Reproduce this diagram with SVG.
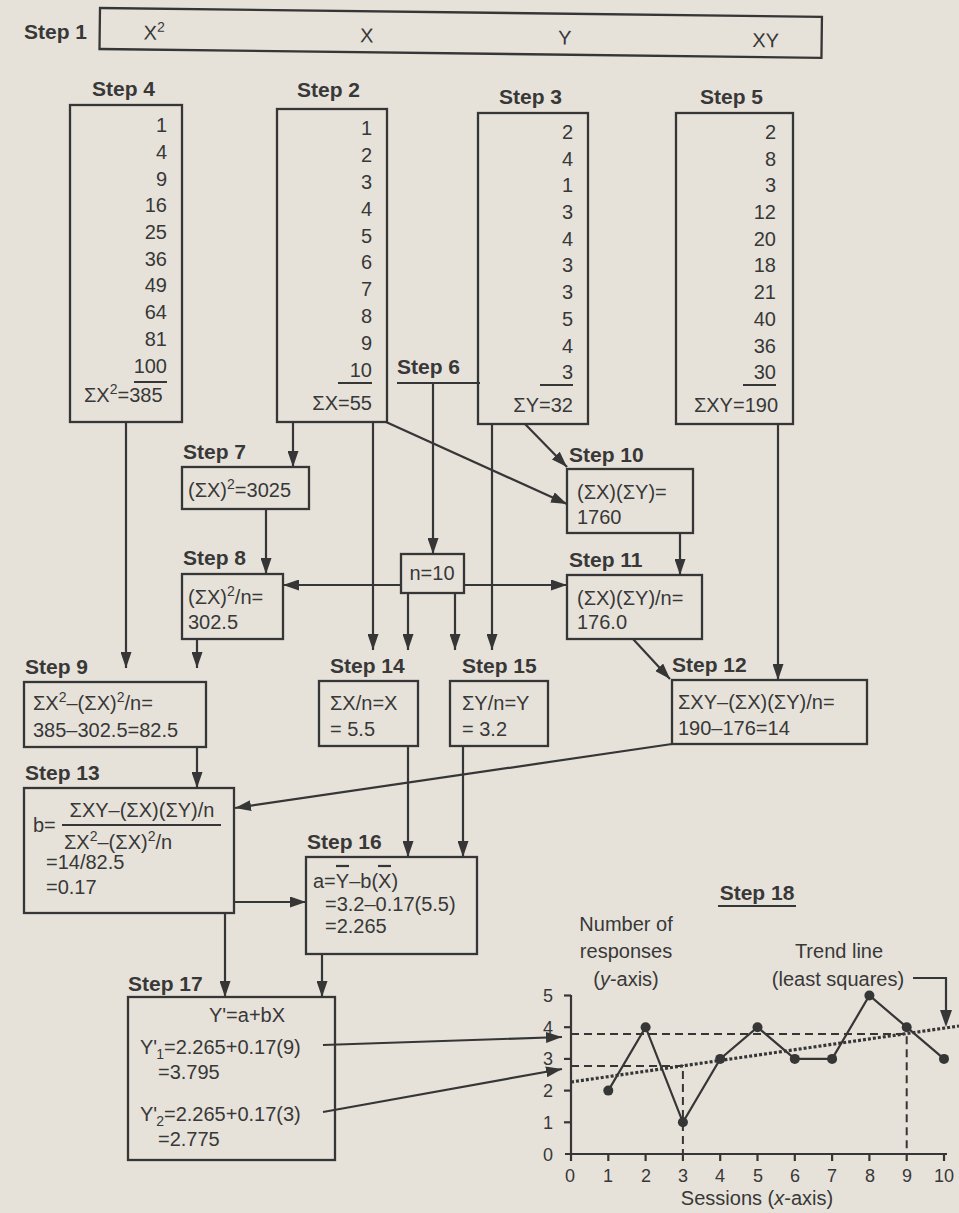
<svg xmlns="http://www.w3.org/2000/svg" width="959" height="1213" viewBox="0 0 959 1213">
<defs>
<marker id="ah" viewBox="0 0 16 11" refX="16" refY="5.5" markerWidth="16" markerHeight="11" orient="auto" markerUnits="userSpaceOnUse"><path d="M0,0 L16,5.5 L0,11 z" fill="#363636"/></marker>
<style>
text{font-family:"Liberation Sans",Arial,sans-serif;fill:#383838;font-size:20px}
.lb{font-weight:bold;font-size:21px}
.bx{fill:none;stroke:#363636;stroke-width:2.3}
.c line,.c path,.c polyline{fill:none;stroke:#363636;stroke-width:2.2}
.ar{marker-end:url(#ah)}
.r{text-anchor:end}
.m{text-anchor:middle}
.ul{stroke:#363636;stroke-width:2.2}
.ax{stroke:#363636;stroke-width:2.2;fill:none}
.tk{font-size:18px}
.sp{font-size:14px}
</style>
</defs>
<rect x="0" y="0" width="959" height="1213" fill="#e6e2da"/>

<g id="step1">
<text class="lb" x="24" y="39">Step 1</text>
<g transform="rotate(0.7 100 8)">
<rect class="bx" x="100" y="8" width="722" height="41"/>
<text x="144" y="39">X<tspan class="sp" dy="-8">2</tspan></text>
<text class="m" x="367" y="39">X</text>
<text class="m" x="565" y="39">Y</text>
<text class="m" x="766" y="39">XY</text>
</g>
</g>

<g id="step4">
<text class="lb" x="92" y="96">Step 4</text>
<rect class="bx" x="70" y="105" width="112" height="317"/>
<text class="r" x="167" y="132">1</text>
<text class="r" x="167" y="159">4</text>
<text class="r" x="167" y="186">9</text>
<text class="r" x="167" y="212">16</text>
<text class="r" x="167" y="239">25</text>
<text class="r" x="167" y="266">36</text>
<text class="r" x="167" y="292">49</text>
<text class="r" x="167" y="319">64</text>
<text class="r" x="167" y="346">81</text>
<text class="r" x="167" y="373">100</text>
<line class="ul" x1="134" y1="382" x2="167" y2="382"/>
<text x="84" y="402">ΣX<tspan class="sp" dy="-8">2</tspan><tspan dy="8">=385</tspan></text>
</g>

<g id="step2">
<text class="lb" x="297" y="97">Step 2</text>
<rect class="bx" x="277" y="109" width="110" height="313"/>
<text class="r" x="372" y="135">1</text>
<text class="r" x="372" y="162">2</text>
<text class="r" x="372" y="189">3</text>
<text class="r" x="372" y="216">4</text>
<text class="r" x="372" y="243">5</text>
<text class="r" x="372" y="269">6</text>
<text class="r" x="372" y="296">7</text>
<text class="r" x="372" y="323">8</text>
<text class="r" x="372" y="350">9</text>
<text class="r" x="372" y="377">10</text>
<line class="ul" x1="338" y1="383" x2="372" y2="383"/>
<text class="r" x="372" y="410">ΣX=55</text>
</g>

<g id="step3">
<text class="lb" x="499" y="104">Step 3</text>
<rect class="bx" x="478" y="113" width="110" height="311"/>
<text class="r" x="573" y="139">2</text>
<text class="r" x="573" y="166">4</text>
<text class="r" x="573" y="192">1</text>
<text class="r" x="573" y="219">3</text>
<text class="r" x="573" y="246">4</text>
<text class="r" x="573" y="272">3</text>
<text class="r" x="573" y="299">3</text>
<text class="r" x="573" y="326">5</text>
<text class="r" x="573" y="353">4</text>
<text class="r" x="573" y="379">3</text>
<line class="ul" x1="540" y1="385" x2="573" y2="385"/>
<text class="r" x="573" y="412">ΣY=32</text>
</g>

<g id="step5">
<text class="lb" x="700" y="104">Step 5</text>
<rect class="bx" x="676" y="113" width="117" height="311"/>
<text class="r" x="776" y="139">2</text>
<text class="r" x="776" y="166">8</text>
<text class="r" x="776" y="192">3</text>
<text class="r" x="776" y="219">12</text>
<text class="r" x="776" y="246">20</text>
<text class="r" x="776" y="272">18</text>
<text class="r" x="776" y="299">21</text>
<text class="r" x="776" y="326">40</text>
<text class="r" x="776" y="353">36</text>
<text class="r" x="776" y="379">30</text>
<line class="ul" x1="743" y1="385" x2="776" y2="385"/>
<text class="r" x="778" y="412">ΣXY=190</text>
</g>

<g id="step6">
<text class="lb" x="397" y="374">Step 6</text>
<line class="ul" x1="397" y1="383" x2="480" y2="383"/>
<rect class="bx" x="401" y="554" width="63" height="39"/>
<text class="m" x="432" y="580">n=10</text>
</g>

<g id="step7">
<text class="lb" x="183" y="459">Step 7</text>
<rect class="bx" x="182" y="467" width="127" height="42"/>
<text x="188" y="497">(ΣX)<tspan class="sp" dy="-8">2</tspan><tspan dy="8">=3025</tspan></text>
</g>

<g id="step8">
<text class="lb" x="183" y="565">Step 8</text>
<rect class="bx" x="182" y="574" width="101" height="65"/>
<text x="188" y="604">(ΣX)<tspan class="sp" dy="-8">2</tspan><tspan dy="8">/n=</tspan></text>
<text x="188" y="629">302.5</text>
</g>

<g id="step9">
<text class="lb" x="25" y="674">Step 9</text>
<rect class="bx" x="24" y="682" width="182" height="65"/>
<text x="33" y="710">ΣX<tspan class="sp" dy="-8">2</tspan><tspan dy="8">–(ΣX)</tspan><tspan class="sp" dy="-8">2</tspan><tspan dy="8">/n=</tspan></text>
<text x="33" y="737">385–302.5=82.5</text>
</g>

<g id="step10">
<text class="lb" x="569" y="462">Step 10</text>
<rect class="bx" x="567" y="469" width="126" height="64"/>
<text x="577" y="499">(ΣX)(ΣY)=</text>
<text x="577" y="524">1760</text>
</g>

<g id="step11">
<text class="lb" x="569" y="567">Step 11</text>
<rect class="bx" x="567" y="575" width="135" height="64"/>
<text x="577" y="605">(ΣX)(ΣY)/n=</text>
<text x="577" y="629">176.0</text>
</g>

<g id="step12">
<text class="lb" x="672" y="672">Step 12</text>
<rect class="bx" x="672" y="680" width="195" height="64"/>
<text x="678" y="709">ΣXY–(ΣX)(ΣY)/n=</text>
<text x="678" y="735">190–176=14</text>
</g>

<g id="step13">
<text class="lb" x="25" y="780">Step 13</text>
<rect class="bx" x="24" y="788" width="210" height="125"/>
<text x="33" y="832">b=</text>
<text class="m" x="142" y="817">ΣXY–(ΣX)(ΣY)/n</text>
<line class="ul" x1="62" y1="825" x2="221" y2="825"/>
<text x="64" y="849">ΣX<tspan class="sp" dy="-8">2</tspan><tspan dy="8">–(ΣX)</tspan><tspan class="sp" dy="-8">2</tspan><tspan dy="8">/n</tspan></text>
<text x="46" y="869">=14/82.5</text>
<text x="46" y="894">=0.17</text>
</g>

<g id="step14">
<text class="lb" x="330" y="673">Step 14</text>
<rect class="bx" x="319" y="681" width="99" height="65"/>
<text x="330" y="710">ΣX/n=X</text>
<text x="330" y="736">= 5.5</text>
</g>

<g id="step15">
<text class="lb" x="462" y="673">Step 15</text>
<rect class="bx" x="450" y="681" width="98" height="65"/>
<text x="462" y="710">ΣY/n=Y</text>
<text x="462" y="736">= 3.2</text>
</g>

<g id="step16">
<text class="lb" x="307" y="849">Step 16</text>
<rect class="bx" x="306" y="857" width="171" height="97"/>
<text x="313" y="888">a=Y–b(X)</text>
<line class="ul" x1="336" y1="866" x2="349" y2="866" stroke-width="1.6"/>
<line class="ul" x1="378" y1="866" x2="391" y2="866" stroke-width="1.6"/>
<text x="325" y="911">=3.2–0.17(5.5)</text>
<text x="325" y="933">=2.265</text>
</g>

<g id="step17">
<text class="lb" x="128" y="991">Step 17</text>
<rect class="bx" x="128" y="997" width="207" height="163"/>
<text class="m" x="247" y="1022">Y'=a+bX</text>
<text x="140" y="1054">Y'<tspan class="sp" dx="-1" dy="5">1</tspan><tspan dy="-5">=2.265+0.17(9)</tspan></text>
<text x="158" y="1079">=3.795</text>
<text x="140" y="1121">Y'<tspan class="sp" dx="-1" dy="5">2</tspan><tspan dy="-5">=2.265+0.17(3)</tspan></text>
<text x="158" y="1146">=2.775</text>
</g>

<g id="connectors" class="c">
<line class="ar" x1="293" y1="422" x2="293" y2="467"/>
<line class="ar" x1="266" y1="509" x2="266" y2="574"/>
<line class="ar" x1="433" y1="383" x2="433" y2="554"/>
<line class="ar" x1="401" y1="585" x2="283" y2="585"/>
<line class="ar" x1="464" y1="585" x2="567" y2="585"/>
<line class="ar" x1="525" y1="424" x2="567" y2="467"/>
<line class="ar" x1="386" y1="422" x2="567" y2="504"/>
<line class="ar" x1="680" y1="533" x2="680" y2="575"/>
<line class="ar" x1="778" y1="424" x2="778" y2="680"/>
<line class="ar" x1="633" y1="639" x2="670" y2="679"/>
<line class="ar" x1="373" y1="422" x2="373" y2="650"/>
<line class="ar" x1="408" y1="593" x2="408" y2="650"/>
<line class="ar" x1="455" y1="593" x2="455" y2="650"/>
<line class="ar" x1="492" y1="424" x2="492" y2="650"/>
<line class="ar" x1="126" y1="422" x2="126" y2="668"/>
<line class="ar" x1="197" y1="639" x2="197" y2="668"/>
<line class="ar" x1="197" y1="747" x2="197" y2="788"/>
<line class="ar" x1="672" y1="744" x2="235" y2="808"/>
<line class="ar" x1="408" y1="746" x2="408" y2="857"/>
<line class="ar" x1="463" y1="746" x2="463" y2="857"/>
<line class="ar" x1="234" y1="902" x2="306" y2="902"/>
<line class="ar" x1="225" y1="913" x2="225" y2="997"/>
<line class="ar" x1="322" y1="954" x2="322" y2="997"/>
<line class="ar" x1="323" y1="1045" x2="562" y2="1037"/>
<line class="ar" x1="323" y1="1112" x2="562" y2="1069"/>
</g>

<g id="step18">
<text class="lb m" x="757" y="900">Step 18</text>
<line class="ul" x1="718" y1="906" x2="796" y2="906"/>
<text class="m" x="626" y="931">Number of</text>
<text class="m" x="626" y="958">responses</text>
<text class="m" x="626" y="986">(<tspan font-style="italic">y</tspan>-axis)</text>
<text class="m" x="839" y="958">Trend line</text>
<text class="m" x="838" y="986">(least squares)</text>
<polyline class="ax" points="913,978 946,978 946,1012"/>
<path d="M940,1010 L946,1027 L952,1010 z" fill="#363636"/>
<line class="ax" x1="571" y1="995" x2="571" y2="1161"/>
<line class="ax" x1="565" y1="1154" x2="947" y2="1154"/>
<g class="ax">
<line x1="564" y1="995.5" x2="571" y2="995.5"/>
<line x1="564" y1="1027.2" x2="571" y2="1027.2"/>
<line x1="564" y1="1058.9" x2="571" y2="1058.9"/>
<line x1="564" y1="1090.6" x2="571" y2="1090.6"/>
<line x1="564" y1="1122.3" x2="571" y2="1122.3"/>
<line x1="608.3" y1="1154" x2="608.3" y2="1161"/>
<line x1="645.6" y1="1154" x2="645.6" y2="1161"/>
<line x1="682.9" y1="1154" x2="682.9" y2="1161"/>
<line x1="720.2" y1="1154" x2="720.2" y2="1161"/>
<line x1="757.5" y1="1154" x2="757.5" y2="1161"/>
<line x1="794.8" y1="1154" x2="794.8" y2="1161"/>
<line x1="832.1" y1="1154" x2="832.1" y2="1161"/>
<line x1="869.4" y1="1154" x2="869.4" y2="1161"/>
<line x1="906.7" y1="1154" x2="906.7" y2="1161"/>
<line x1="944" y1="1154" x2="944" y2="1161"/>
</g>
<g>
<text class="m tk" x="548" y="1002">5</text>
<text class="m tk" x="548" y="1034">4</text>
<text class="m tk" x="548" y="1065">3</text>
<text class="m tk" x="548" y="1097">2</text>
<text class="m tk" x="548" y="1129">1</text>
<text class="m tk" x="548" y="1161">0</text>
<text class="m tk" x="570" y="1182">0</text>
<text class="m tk" x="608" y="1182">1</text>
<text class="m tk" x="646" y="1182">2</text>
<text class="m tk" x="683" y="1182">3</text>
<text class="m tk" x="720" y="1182">4</text>
<text class="m tk" x="758" y="1182">5</text>
<text class="m tk" x="795" y="1182">6</text>
<text class="m tk" x="832" y="1182">7</text>
<text class="m tk" x="870" y="1182">8</text>
<text class="m tk" x="907" y="1182">9</text>
<text class="m tk" x="944" y="1182">10</text>
</g>
<text class="m" x="757" y="1205">Sessions (<tspan font-style="italic">x</tspan>-axis)</text>
<g fill="none" stroke="#363636" stroke-width="2" stroke-dasharray="8 5">
<polyline points="571,1034 906.7,1034 906.7,1154"/>
<polyline points="571,1066 682.9,1066 682.9,1154"/>
</g>
<line x1="571" y1="1082" x2="959" y2="1026" stroke="#363636" stroke-width="3.2" stroke-dasharray="3 2"/>
<polyline fill="none" stroke="#363636" stroke-width="2.2" points="608.3,1090.6 645.6,1027.2 682.9,1122.3 720.2,1058.9 757.5,1027.2 794.8,1058.9 832.1,1058.9 869.4,995.5 906.7,1027.2 944,1058.9"/>
<g fill="#363636">
<circle cx="608.3" cy="1090.6" r="5"/>
<circle cx="645.6" cy="1027.2" r="5"/>
<circle cx="682.9" cy="1122.3" r="5"/>
<circle cx="720.2" cy="1058.9" r="5"/>
<circle cx="757.5" cy="1027.2" r="5"/>
<circle cx="794.8" cy="1058.9" r="5"/>
<circle cx="832.1" cy="1058.9" r="5"/>
<circle cx="869.4" cy="995.5" r="5"/>
<circle cx="906.7" cy="1027.2" r="5"/>
<circle cx="944" cy="1058.9" r="5"/>
</g>
</g>
</svg>
